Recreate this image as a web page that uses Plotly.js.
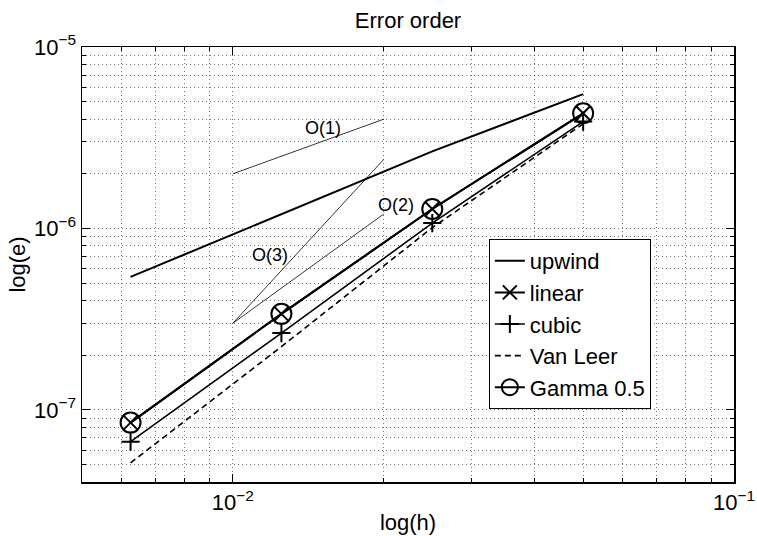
<!DOCTYPE html>
<html>
<head>
<meta charset="utf-8">
<script src="https://cdn.plot.ly/plotly-3.0.1.min.js"></script>
<style>html,body{margin:0;padding:0;background:#fff;}#plot{width:757px;height:536px;}</style>
</head>
<body>
<div id="plot"></div>
<script>
// Data
var h = [0.00625, 0.0125, 0.025, 0.05];
var upwind = [5.4e-7, 1.20e-6, 2.66e-6, 5.5e-6];
var linear = [8.5e-8, 3.38e-7, 1.28e-6, 4.31e-6];
var cubic = [6.67e-8, 2.65e-7, 1.07e-6, 3.88e-6];
var vanLeer = [5.1e-8, 2.23e-7, 1.01e-6, 3.77e-6];
var gamma05 = [8.5e-8, 3.38e-7, 1.28e-6, 4.31e-6];

// Reference slope lines
var refX = [0.01, 0.02];
var o1Y = [2e-6, 4e-6];
var o2Y = [3e-7, 1.2e-6];
var o3Y = [3e-7, 2.4e-6];

// Reference labels
var refLabels = ['O(1)', 'O(2)', 'O(3)'];
var refLabelX = [0.0151, 0.0212, 0.01186];
var refLabelY = [3.58e-6, 1.347e-6, 7.15e-7];

// Ticks
var xTickVals = [0.01, 0.1];
var xTickText = ['10<sup>−2</sup>', '10<sup>−1</sup>'];
var yTickVals = [1e-7, 1e-6, 1e-5];
var yTickText = ['10<sup>−7</sup>', '10<sup>−6</sup>', '10<sup>−5</sup>'];
var xMinor = [0.005, 0.006, 0.007, 0.008, 0.009, 0.02, 0.03, 0.04, 0.05, 0.06, 0.07, 0.08, 0.09];
var yMinor = [4e-8, 5e-8, 6e-8, 7e-8, 8e-8, 9e-8, 2e-7, 3e-7, 4e-7, 5e-7, 6e-7, 7e-7, 8e-7, 9e-7,
              2e-6, 3e-6, 4e-6, 5e-6, 6e-6, 7e-6, 8e-6, 9e-6];

var FONT = 'Liberation Sans, Arial, Helvetica, sans-serif';
var black = '#000000';
var GRID = 'rgba(0,0,0,0.55)';
var GDASH = '1px,3px';

var traces = [
  {x: refX, y: o1Y, mode: 'lines', line: {color: black, width: 0.8}, showlegend: false, hoverinfo: 'skip'},
  {x: refX, y: o2Y, mode: 'lines', line: {color: black, width: 0.8}, showlegend: false, hoverinfo: 'skip'},
  {x: refX, y: o3Y, mode: 'lines', line: {color: black, width: 0.8}, showlegend: false, hoverinfo: 'skip'},
  {x: h, y: upwind, name: 'upwind', mode: 'lines', line: {color: black, width: 2}},
  {x: h, y: linear, name: 'linear', mode: 'lines+markers', line: {color: black, width: 2},
   marker: {symbol: 'x-thin', size: 14, color: black, line: {color: black, width: 2}}},
  {x: h, y: cubic, name: 'cubic', mode: 'lines+markers', line: {color: black, width: 1.6},
   marker: {symbol: 'cross-thin', size: 13, color: black, line: {color: black, width: 2}}},
  {x: h, y: vanLeer, name: 'Van Leer', mode: 'lines', line: {color: black, width: 1.6, dash: '6px,4px'}},
  {x: h, y: gamma05, name: 'Gamma 0.5', mode: 'lines+markers', line: {color: black, width: 2},
   marker: {symbol: 'circle-open', size: 20, color: black, line: {color: black, width: 2}}}
];

var annotations = refLabels.map(function (t, i) {
  return {x: Math.log10(refLabelX[i]), y: Math.log10(refLabelY[i]), xref: 'x', yref: 'y',
          text: t, showarrow: false, font: {family: FONT, size: 18, color: black},
          xanchor: 'center', yanchor: 'middle'};
});

var axisCommon = {
  type: 'log',
  tickmode: 'array',
  ticks: 'inside',
  ticklen: 8,
  tickwidth: 1,
  tickcolor: black,
  showline: true,
  linecolor: black,
  linewidth: 1.5,
  mirror: 'allticks',
  showgrid: true,
  gridcolor: GRID,
  griddash: GDASH,
  gridwidth: 1,
  zeroline: false,
  tickfont: {family: FONT, size: 22, color: black}
};

var layout = {
  width: 757,
  height: 536,
  paper_bgcolor: '#ffffff',
  plot_bgcolor: '#ffffff',
  margin: {l: 82, r: 23, t: 47, b: 54, pad: 0},
  font: {family: FONT, color: black},
  title: {text: 'Error order', font: {family: FONT, size: 22, color: black},
          x: 0.539, xref: 'container', xanchor: 'center', y: 0.962, yref: 'container', yanchor: 'middle'},
  xaxis: Object.assign({}, axisCommon, {
    range: [Math.log10(0.005), -1],
    tickvals: xTickVals, ticktext: xTickText,
    minor: {tickvals: xMinor, ticks: 'inside', ticklen: 4, tickcolor: black, showgrid: true,
            gridcolor: GRID, griddash: GDASH, gridwidth: 1},
    title: {text: 'log(h)', font: {family: FONT, size: 22, color: black}, standoff: 0}
  }),
  yaxis: Object.assign({}, axisCommon, {
    range: [Math.log10(4e-8), -5],
    tickvals: yTickVals, ticktext: yTickText,
    minor: {tickvals: yMinor, ticks: 'inside', ticklen: 4, tickcolor: black, showgrid: true,
            gridcolor: GRID, griddash: GDASH, gridwidth: 1},
    title: {text: 'log(e)', font: {family: FONT, size: 22, color: black}, standoff: 2}
  }),
  legend: {
    x: 0.624, y: 0.5586, xanchor: 'left', yanchor: 'top',
    bgcolor: '#ffffff', bordercolor: black, borderwidth: 1,
    font: {family: FONT, size: 22, color: black},
    itemwidth: 30, tracegroupgap: 0
  },
  annotations: annotations,
  showlegend: true
};

Plotly.newPlot('plot', traces, layout, {staticPlot: true, displayModeBar: false});
</script>
</body>
</html>
